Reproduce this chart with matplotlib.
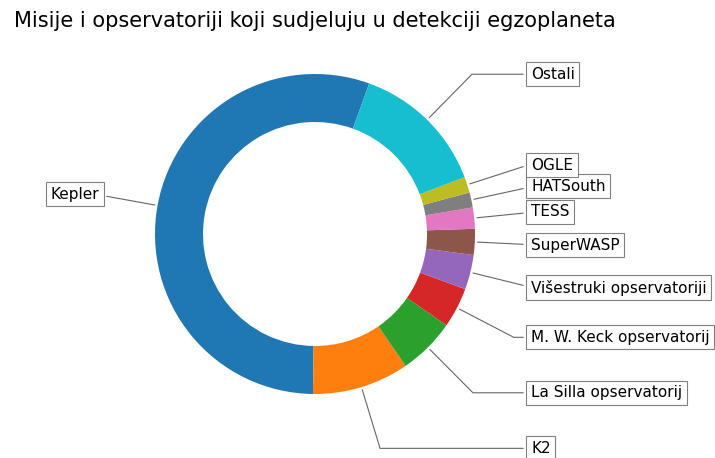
import numpy as np
import matplotlib
matplotlib.use("Agg")
import matplotlib.pyplot as plt

labels = ["Kepler", "K2", "La Silla opservatorij", "M. W. Keck opservatorij",
          "Višestruki opservatoriji", "SuperWASP", "TESS", "HATSouth", "OGLE", "Ostali"]
counts = [2765, 489, 288, 203, 175, 131, 107, 76, 80, 686]
title = "Misije i opservatoriji koji sudjeluju u detekciji egzoplaneta"

fig = plt.figure(figsize=(7.15, 4.58), dpi=100)
ax = fig.add_axes([115/715, 24/458, 400/715, 400/458])

wedges, _ = ax.pie(counts, wedgeprops=dict(width=0.3), startangle=70.2)
ax.set_aspect("equal")

bbox_props = dict(boxstyle="square,pad=0.3", fc="w", ec="0.5", lw=0.8)
kw = dict(arrowprops=dict(arrowstyle="-", lw=0.8, color="0.4"), bbox=bbox_props,
          zorder=0, va="center")

for i, p in enumerate(wedges):
    ang = (p.theta2 - p.theta1) / 2. + p.theta1
    y = np.sin(np.deg2rad(ang))
    x = np.cos(np.deg2rad(ang))
    ha = {-1: "right", 1: "left"}[int(np.sign(x))]
    cs = f"angle,angleA=0,angleB={ang}"
    kw["arrowprops"].update({"connectionstyle": cs})
    ax.annotate(labels[i], xy=(x, y), xytext=(1.35 * np.sign(x), 1.4 * y),
                ha=ha, fontsize=11, **kw)

ax.set_title(title, fontsize=15, pad=5)
fig.savefig("out.png", dpi=100)
